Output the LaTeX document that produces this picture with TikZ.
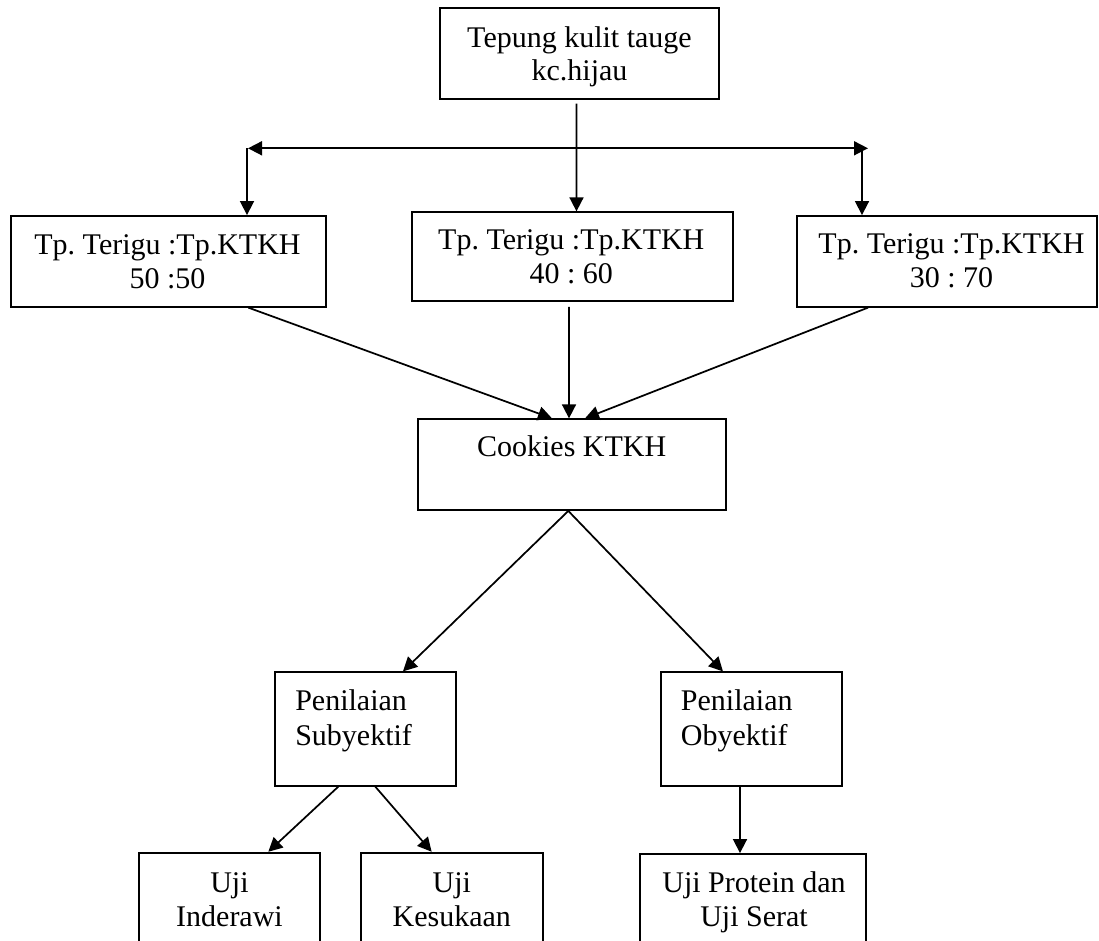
\documentclass[tikz,border=0pt]{standalone}
\usepackage{fontspec}
\setmainfont{Liberation Serif}
\frenchspacing
\usetikzlibrary{arrows.meta,calc,fit}
\begin{document}
\begin{tikzpicture}[x=0.75pt,y=-0.75pt,
  box/.style={draw=black,line width=1.4pt,inner sep=0pt,fit={#1}},
  txt/.style={font=\fontsize{22.5}{25}\selectfont\frenchspacing,inner sep=0pt,align=center,anchor=base},
  ltxt/.style={font=\fontsize{22.5}{26}\selectfont\frenchspacing,inner sep=0pt,align=left,anchor=base west},
  arr/.style={line width=1.3pt,-{Triangle[length=10.5pt,width=10.5pt]}},
  darr/.style={line width=1.3pt,{Triangle[length=10.5pt,width=10.5pt]}-{Triangle[length=10.5pt,width=10.5pt]}}]
\useasboundingbox (0,0) rectangle (1099,941);
\fill[white] (0,0) rectangle (1099,941);
\clip (0,0) rectangle (1099,941);
% boxes
\node[box={(440,8.3) (719,99)}] (top) {};
\node[box={(10.7,216) (326,306.7)}] (left) {};
\node[box={(411.7,212.3) (732.7,301)}] (mid) {};
\node[box={(797,216) (1097,306.7)}] (right) {};
\node[box={(418.3,419.3) (725.7,510)}] (cook) {};
\node[box={(275,672.3) (456,785.7)}] (subj) {};
\node[box={(661,672.3) (841.7,785.7)}] (obj) {};
\node[box={(139,852.7) (320,990)}] (inder) {};
\node[box={(361,852.7) (542.7,990)}] (kesuk) {};
\node[box={(640,854) (865.7,990)}] (prot) {};
% texts (anchor at baseline of last line)
\node[txt] (topT) at (579.5,81) {Tepung kulit tauge\\kc.hijau};
\node[txt] (leftT) at (167.5,288) {Tp. Terigu :Tp.KTKH\\50 :50};
\node[txt] (midT) at (571.3,283.3) {Tp. Terigu :Tp.KTKH\\40 : 60};
\node[txt] (rightT) at (951.5,287) {Tp. Terigu :Tp.KTKH\\30 : 70};
\node[txt] (cookT) at (571.7,456.7) {Cookies KTKH};
\node[ltxt] (subjT) at (295,745) {Penilaian\\Subyektif};
\node[ltxt] (objT) at (680.7,745) {Penilaian\\Obyektif};
\node[txt] (inderT) at (229.5,926) {Uji\\Inderawi};
\node[txt] (kesukT) at (451.8,926) {Uji\\Kesukaan};
\node[txt] (protT) at (754,926) {Uji Protein dan\\Uji Serat};
% connectors
\coordinate (hl) at (248,148.3);
\coordinate (hr) at (868,148.3);
\coordinate (jl) at (247,148.3);
\coordinate (jr) at (862,148.3);
\draw[arr] ($(top.south)+(-3,3.7)$) -- ($(mid.north)+(4.3,0)$);
\draw[darr] (hl) -- (hr);
\draw[arr] (jl) -- (jl |- left.north);
\draw[arr] (jr) -- (jr |- right.north);
\draw[arr] ($(left.south)+(80,0)$) -- ($(cook.north)+(-20,0)$);
\draw[arr] ($(mid.south)+(-3.2,5)$) -- ($(cook.north)+(-3,0)$);
\draw[arr] ($(right.south)+(-79,0)$) -- ($(cook.north)+(13,0)$);
\draw[arr] ($(cook.south)+(-3.7,0)$) -- ($(subj.north)+(37.5,0)$);
\draw[arr] ($(cook.south)+(-3.7,0)$) -- ($(obj.north)+(-28.4,0)$);
\draw[arr] ($(subj.south)+(-27.2,0)$) -- ($(inder.north)+(38.8,0)$);
\draw[arr] ($(subj.south)+(9.8,0)$) -- ($(kesuk.north)+(-20.2,0)$);
\draw[arr] ($(obj.south)+(-11.35,0)$) -- ($(prot.north)+(-12.85,0)$);
\end{tikzpicture}
\end{document}
